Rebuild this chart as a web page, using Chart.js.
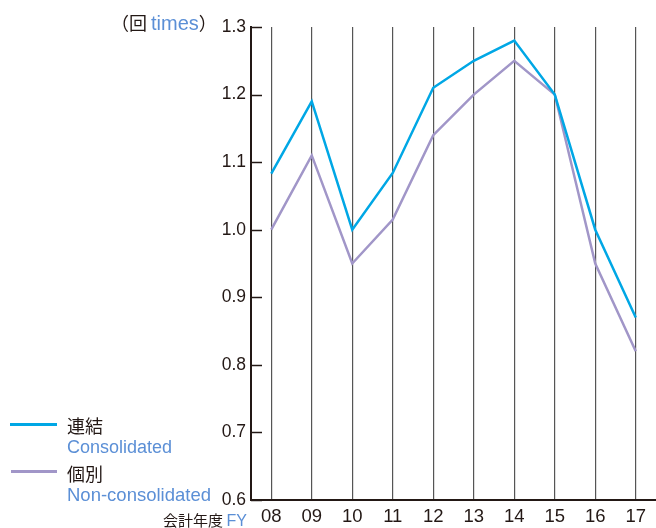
<!DOCTYPE html>
<html>
<head>
<meta charset="utf-8">
<script src="https://cdn.jsdelivr.net/npm/chart.js@4"></script>
<style>
  body { margin: 0; background: #fff; }
  #wrap { position: relative; width: 656px; height: 528px; font-family: "Liberation Sans", Arial, "Noto Sans CJK JP", sans-serif; color: #231815; }
  #wrap canvas { position: absolute; left: 0; top: 0; }
  .t { position: absolute; white-space: nowrap; transform: translateY(-50%); line-height: 1; }
  .en { color: #5b8fd6; }
  .jp { font-family: "Noto Sans CJK JP", sans-serif; }
  .sw { position: absolute; height: 3px; }
</style>
</head>
<body>
<div id="wrap">
  <canvas id="ratioChart" width="656" height="528"></canvas>
  <div class="t jp" style="left:111px; top:23px; font-size:18px;">（回 <span class="en" style="font-family:'Liberation Sans',Arial,sans-serif; font-size:20px;">times</span>）</div>
  <div class="sw" style="left:10px; top:423px; width:47px; background:#00a7e5;"></div>
  <div class="t jp" style="left:67px; top:425px; font-size:18px;">連結</div>
  <div class="t en" style="left:67px; top:447px; font-size:18px;">Consolidated</div>
  <div class="sw" style="left:11px; top:470px; width:46px; background:#a196c8;"></div>
  <div class="t jp" style="left:67px; top:473px; font-size:18px;">個別</div>
  <div class="t en" style="left:67px; top:495px; font-size:18.5px;">Non-consolidated</div>
  <div class="t jp" style="left:163px; top:520px; font-size:15px;">会計年度 <span class="en" style="font-family:'Liberation Sans',Arial,sans-serif; font-size:16px;">FY</span></div>
</div>
<script>
const years = ["08", "09", "10", "11", "12", "13", "14", "15", "16", "17"];
const consolidated = [1.083, 1.19, 1.0, 1.084, 1.21, 1.25, 1.28, 1.2, 1.0, 0.87];
const nonConsolidated = [1.0, 1.11, 0.95, 1.015, 1.14, 1.2, 1.25, 1.2, 0.95, 0.82];
const yMin = 0.6;
const yMax = 1.3;
const yStep = 0.1;

// short tick marks inside the plot along the y axis
const innerTicks = {
  id: "innerTicks",
  afterDraw(chart) {
    const { ctx, chartArea, scales } = chart;
    ctx.save();
    ctx.strokeStyle = "#231815";
    ctx.lineWidth = 1.5;
    scales.y.ticks.forEach((t) => {
      const y = Math.round(scales.y.getPixelForValue(t.value)) + 0.5;
      ctx.beginPath();
      ctx.moveTo(chartArea.left, y);
      ctx.lineTo(chartArea.left + 11, y);
      ctx.stroke();
    });
    ctx.restore();
  },
};

new Chart(document.getElementById("ratioChart"), {
  type: "line",
  data: {
    labels: years,
    datasets: [
      {
        label: "連結 Consolidated",
        data: consolidated,
        borderColor: "#00a7e5",
        borderWidth: 2.5,
        pointRadius: 0,
        tension: 0,
      },
      {
        label: "個別 Non-consolidated",
        data: nonConsolidated,
        borderColor: "#a196c8",
        borderWidth: 2.5,
        pointRadius: 0,
        tension: 0,
      },
    ],
  },
  options: {
    responsive: false,
    animation: false,
    layout: { padding: { top: 27, right: 0, left: 0, bottom: 0 } },
    plugins: { legend: { display: false }, tooltip: { enabled: false } },
    scales: {
      x: {
        offset: true,
        grid: { color: "#555", lineWidth: 1.2, offset: false, drawTicks: false },
        border: { color: "#231815", width: 2 },
        ticks: {
          color: "#231815",
          padding: 6,
          font: { family: "'Liberation Sans', Arial, sans-serif", size: 18.5 },
        },
        afterFit: (scale) => { scale.height = 28; },
      },
      y: {
        min: yMin,
        max: yMax,
        grid: { drawOnChartArea: false, drawTicks: false },
        border: { color: "#231815", width: 2 },
        ticks: {
          stepSize: yStep,
          color: "#231815",
          padding: 5,
          font: { family: "'Liberation Sans', Arial, sans-serif", size: 17.5 },
          callback: (v) => v.toFixed(1),
        },
        afterFit: (scale) => { scale.width = 251; },
      },
    },
  },
  plugins: [innerTicks],
});
</script>
</body>
</html>
